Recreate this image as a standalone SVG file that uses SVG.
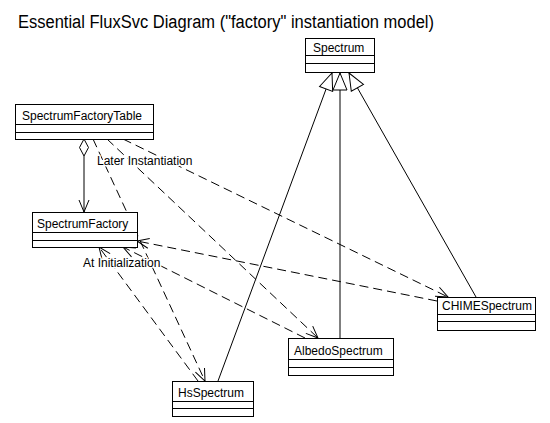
<svg xmlns="http://www.w3.org/2000/svg" width="550" height="423" viewBox="0 0 550 423">
<style>
text{font-family:"Liberation Sans",Arial,sans-serif;fill:#000}
.t{font-size:18px}
.n{font-size:12px}
.l{font-size:12px;stroke:#fff;stroke-width:3px;paint-order:stroke;stroke-linejoin:round}
.box{fill:#fff;stroke:#000;stroke-width:1}
.sep{stroke:#000;stroke-width:1}
.gen{stroke:#000;stroke-width:1;fill:none;marker-end:url(#tri)}
.dep{stroke:#000;stroke-width:1;fill:none;stroke-dasharray:9,5;marker-end:url(#open)}
</style>
<defs>
<marker id="open" markerUnits="userSpaceOnUse" markerWidth="14" markerHeight="12" viewBox="0 0 14 12" refX="13" refY="6" orient="auto">
<path d="M1,1 L13,6 L1,11" fill="none" stroke="#000" stroke-width="1" stroke-dasharray="none"/>
</marker>
<marker id="tri" markerUnits="userSpaceOnUse" markerWidth="20" markerHeight="16" viewBox="0 0 20 16" refX="18" refY="8" orient="auto">
<path d="M1,1 L18,8 L1,15 Z" fill="#fff" stroke="#000" stroke-width="1"/>
</marker>
</defs>
<rect width="550" height="423" fill="#fff"/>
<text class="t" x="18" y="28" textLength="416" lengthAdjust="spacingAndGlyphs">Essential FluxSvc Diagram ("factory" instantiation model)</text>

<g id="connectors">
<line class="gen" x1="218" y1="381" x2="332" y2="73"/>
<line class="gen" x1="340" y1="338" x2="340" y2="73"/>
<line class="gen" x1="476" y1="297" x2="349" y2="73"/>
<polygon points="84,139 88.5,147.5 84,156 79.5,147.5" fill="#fff" stroke="#000"/>
<line x1="84" y1="156" x2="84" y2="212" stroke="#000" marker-end="url(#open)"/>
<line class="dep" x1="93" y1="139" x2="205" y2="381"/>
<line class="dep" x1="107" y1="139" x2="318" y2="338"/>
<line class="dep" x1="123" y1="139" x2="448" y2="297"/>
<line class="dep" x1="198" y1="381" x2="99" y2="247"/>
<line class="dep" x1="305" y1="338" x2="123" y2="247"/>
<line class="dep" x1="437" y1="301" x2="137" y2="241"/>
<text class="l" x="97" y="165">Later Instantiation</text>
<text class="l" x="83" y="267">At Initialization</text>
</g>

<g id="Spectrum">
<rect class="box" x="305.5" y="38.5" width="69" height="34"/>
<line class="sep" x1="305.5" y1="55.5" x2="374.5" y2="55.5"/>
<line class="sep" x1="305.5" y1="63.5" x2="374.5" y2="63.5"/>
<text class="n" x="313" y="52">Spectrum</text>
</g>
<g id="SpectrumFactoryTable">
<rect class="box" x="15.5" y="104.5" width="138" height="35"/>
<line class="sep" x1="15.5" y1="124.5" x2="153.5" y2="124.5"/>
<line class="sep" x1="15.5" y1="132.5" x2="153.5" y2="132.5"/>
<text class="n" x="22" y="120">SpectrumFactoryTable</text>
</g>
<g id="SpectrumFactory">
<rect class="box" x="32.5" y="212.5" width="105" height="35"/>
<line class="sep" x1="32.5" y1="232.5" x2="137.5" y2="232.5"/>
<line class="sep" x1="32.5" y1="240.5" x2="137.5" y2="240.5"/>
<text class="n" x="37" y="228">SpectrumFactory</text>
</g>
<g id="CHIMESpectrum">
<rect class="box" x="437.5" y="297.5" width="98" height="33"/>
<line class="sep" x1="437.5" y1="314.5" x2="535.5" y2="314.5"/>
<line class="sep" x1="437.5" y1="321.5" x2="535.5" y2="321.5"/>
<text class="n" x="442" y="310">CHIMESpectrum</text>
</g>
<g id="AlbedoSpectrum">
<rect class="box" x="288.5" y="338.5" width="105" height="37"/>
<line class="sep" x1="288.5" y1="359.5" x2="393.5" y2="359.5"/>
<line class="sep" x1="288.5" y1="367.5" x2="393.5" y2="367.5"/>
<text class="n" x="294" y="355">AlbedoSpectrum</text>
</g>
<g id="HsSpectrum">
<rect class="box" x="172.5" y="381.5" width="81" height="35"/>
<line class="sep" x1="172.5" y1="401.5" x2="253.5" y2="401.5"/>
<line class="sep" x1="172.5" y1="408.5" x2="253.5" y2="408.5"/>
<text class="n" x="178" y="397">HsSpectrum</text>
</g>
</svg>
